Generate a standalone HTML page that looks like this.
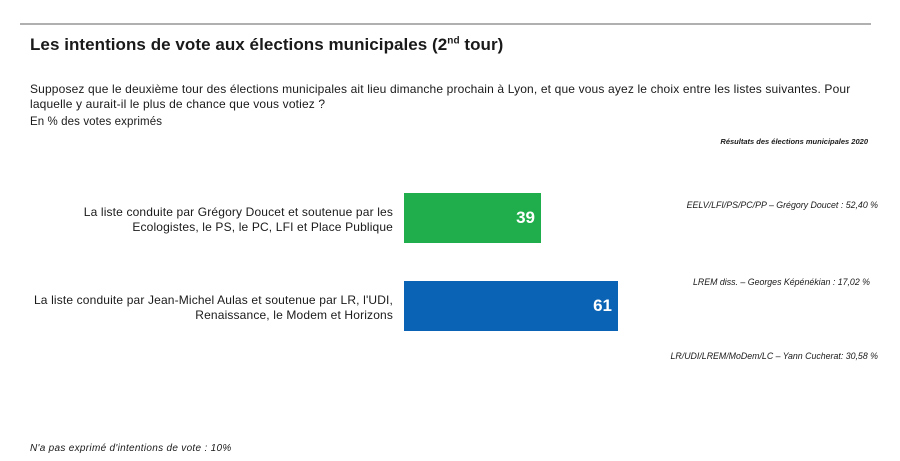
<!DOCTYPE html><html><head><style>
body{margin:0;width:900px;height:461px;background:#fff;font-family:"Liberation Sans",sans-serif;color:#1a1a1a;position:relative;overflow:hidden}
div{position:absolute;white-space:nowrap}
.r{text-align:right}
.it{font-style:italic;font-size:8.8px}
.t{font-size:12px;line-height:15px;letter-spacing:0.15px}
</style></head><body>
<div style="left:20px;top:23px;width:851px;height:2px;background:#b0b0b0"></div>
<div style="left:30px;top:35px;font-size:17px;font-weight:bold;letter-spacing:0.05px">Les intentions de vote aux élections municipales (2<sup style="font-size:10px">nd</sup> tour)</div>
<div class="t" style="left:30px;top:82px">Supposez que le deuxième tour des élections municipales ait lieu dimanche prochain à Lyon, et que vous ayez le choix entre les listes suivantes. Pour<br>laquelle y aurait-il le plus de chance que vous votiez ?</div>
<div style="left:30px;top:116px;font-size:11.5px;letter-spacing:0.1px">En % des votes exprimés</div>
<div class="r" style="right:32px;top:137px;font-size:7.5px;font-style:italic;font-weight:bold">Résultats des élections municipales 2020</div>
<div class="r t" style="right:507px;top:205px">La liste conduite par Grégory Doucet et soutenue par les<br>Ecologistes, le PS, le PC, LFI et Place Publique</div>
<div class="r t" style="right:507px;top:293px">La liste conduite par Jean-Michel Aulas et soutenue par LR, l'UDI,<br>Renaissance, le Modem et Horizons</div>
<div style="left:404px;top:193px;width:137px;height:50px;background:#1fae4b"></div>
<div class="r" style="left:404px;width:131px;top:208px;font-size:17px;font-weight:bold;color:#fff">39</div>
<div style="left:404px;top:281px;width:214px;height:50px;background:#0b63b5"></div>
<div class="r" style="left:404px;width:208px;top:296px;font-size:17px;font-weight:bold;color:#fff">61</div>
<div class="r it" style="right:22px;top:200px">EELV/LFI/PS/PC/PP – Grégory Doucet : 52,40 %</div>
<div class="r it" style="right:30px;top:277px">LREM diss. – Georges Képénékian : 17,02 %</div>
<div class="r it" style="right:22px;top:351px">LR/UDI/LREM/MoDem/LC – Yann Cucherat: 30,58 %</div>
<div style="left:30px;top:443px;font-size:10px;font-style:italic;letter-spacing:0.3px">N'a pas exprimé d'intentions de vote : 10%</div>
</body></html>
